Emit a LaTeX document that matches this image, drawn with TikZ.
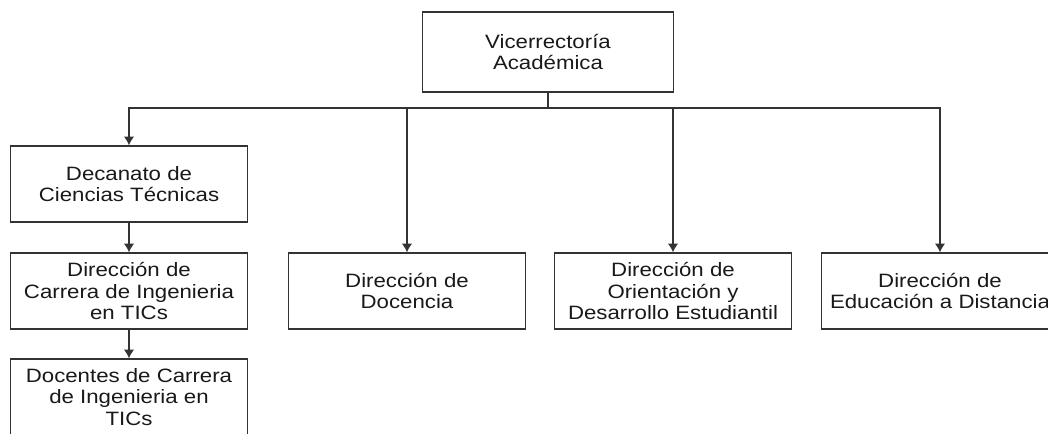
\documentclass[tikz,border=0pt]{standalone}
\usepackage{fontspec}
\setmainfont{Liberation Sans}[FakeStretch=1.15]
\usetikzlibrary{arrows.meta,positioning}

\begin{document}
\begin{tikzpicture}[
      x=0.02cm, y=-0.02cm,
      mybox/.style={
         rectangle,
         draw=black!80,
         line width=0.8pt,
         fill=white,
         text=black!90,
         align=center,
         inner sep=2pt,
         minimum width=237*0.02cm,
         minimum height=76*0.02cm,
         font=\fontsize{11}{12.2}\selectfont},
      myarrow/.style={-{Latex[length=5pt,width=6pt]}},
      myline/.style={draw=black!80, line width=0.8pt}
      ]
\useasboundingbox (0,0) rectangle (1048,433);
\clip (0,0) rectangle (1048,433);

\node[mybox,minimum width=251*0.02cm,minimum height=80*0.02cm] (vr) at (548,52) {Vicerrectoría\\Académica};

\node[mybox] (dec)  at (129,184) {Decanato de\\Ciencias Técnicas};
\node[mybox] (dcar) at (129,291) {Dirección de\\Carrera de Ingenieria\\en TICs};
\node[mybox] (dctc) at (129,397) {Docentes de Carrera\\de Ingenieria en\\TICs};

\node[mybox] (ddoc) at (407,291) {Dirección de\\Docencia};
\node[mybox] (dode) at (673,291) {Dirección de\\Orientación y\\Desarrollo Estudiantil};
\node[mybox] (dead) at (940,291) {Dirección de\\Educación a Distancia};

\coordinate (bus) at (548,108);

\foreach \j in {dec,ddoc,dode,dead}% branches under the bus
       \draw[myline,myarrow] (vr.south) -- (bus) -| (\j.north);

\foreach \i/\j in {% start node/end node
      dec/dcar, dcar/dctc}
       \draw[myline,myarrow] (\i) -- (\j);

\end{tikzpicture}
\end{document}
